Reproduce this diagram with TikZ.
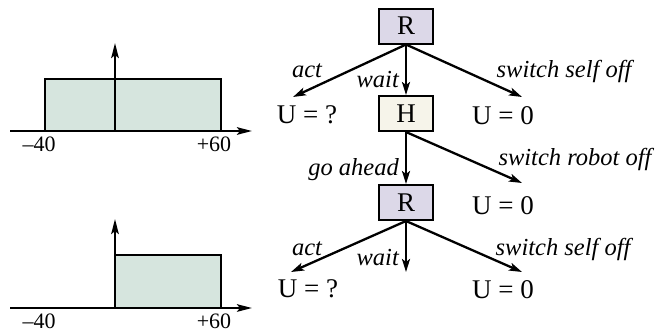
\documentclass[tikz,border=0pt]{standalone}
\usepackage{fontspec}
\setmainfont{Liberation Serif}
\usetikzlibrary{arrows.meta}
\definecolor{boxR}{HTML}{DCD8E8}
\definecolor{boxH}{HTML}{F6F4EA}
\definecolor{distfill}{HTML}{D6E5DE}
\tikzset{
  ar/.style={line width=2.3bp,-{Stealth[length=13bp,width=8bp,inset=3bp]}},
  axis/.style={line width=2.3bp,-{Stealth[length=15bp,width=7.5bp,inset=3bp]}},
  dist/.style={draw=black,line width=1.2bp,fill=distfill},
  agent/.style={draw=black,line width=2bp,minimum width=54bp,minimum height=35bp,inner sep=0pt,font=\fontsize{27bp}{30bp}\selectfont},
  util/.style={inner sep=0pt,anchor=base,font=\fontsize{27bp}{30bp}\selectfont},
  act/.style={inner sep=0pt,anchor=base,font=\fontsize{24.5bp}{28bp}\selectfont\itshape},
  tick/.style={inner sep=0pt,anchor=base,font=\fontsize{22bp}{26bp}\selectfont},
}
\begin{document}
\begin{tikzpicture}[x=1bp,y=-1bp]
\useasboundingbox (0,0) rectangle (655,333);
% top distribution
\draw[dist] (45,131) rectangle (221,79);
\draw[axis] (10,131) -- (252,131);
\draw[axis] (115,131) -- (115,43);
\node[tick] (m40a) at (39,151) {–40};
\node[tick] (p60a) at (214,151) {+60};
% bottom distribution
\draw[dist] (115,308) rectangle (221,255);
\draw[axis] (10,308) -- (252,308);
\draw[axis] (115,308) -- (115,219);
\node[tick] (m40b) at (39,328) {–40};
\node[tick] (p60b) at (214,328) {+60};
% tree
\node[agent,fill=boxR] (R1) at (406,26) {R};
\node[agent,fill=boxH] (H) at (406,113.5) {H};
\node[agent,fill=boxR] (R2) at (406,202.5) {R};
\coordinate (t1) at (293,97);
\coordinate (t2) at (522,97);
\coordinate (t3) at (522,183);
\coordinate (t4) at (291,272);
\coordinate (t5) at (406,272);
\coordinate (t6) at (522,272);
\draw[ar] (R1.south) -- (t1);
\draw[ar] (R1.south) -- (H.north);
\draw[ar] (R1.south) -- (t2);
\draw[ar] (H.south) -- (R2.north);
\draw[ar] (H.south) -- (t3);
\draw[ar] (R2.south) -- (t4);
\draw[ar] (R2.south) -- (t5);
\draw[ar] (R2.south) -- (t6);
\node[util] (u1) at (307,123) {U = ?};
\node[util] (u2) at (503,124) {U = 0};
\node[util] (u3) at (503,214) {U = 0};
\node[util] (u4) at (308,297) {U = ?};
\node[util] (u5) at (503,298) {U = 0};
\node[act] (a1) at (307,77) {act};
\node[act,anchor=base east] (a2) at (399,87) {wait};
\node[act] (a3) at (564,77) {switch self off};
\node[act,anchor=base east] (a4) at (399,175) {go ahead};
\node[act] (a5) at (575,165) {switch robot off};
\node[act] (a6) at (307,255) {act};
\node[act,anchor=base east] (a7) at (399,265) {wait};
\node[act] (a8) at (563,255) {switch self off};
\end{tikzpicture}
\end{document}
